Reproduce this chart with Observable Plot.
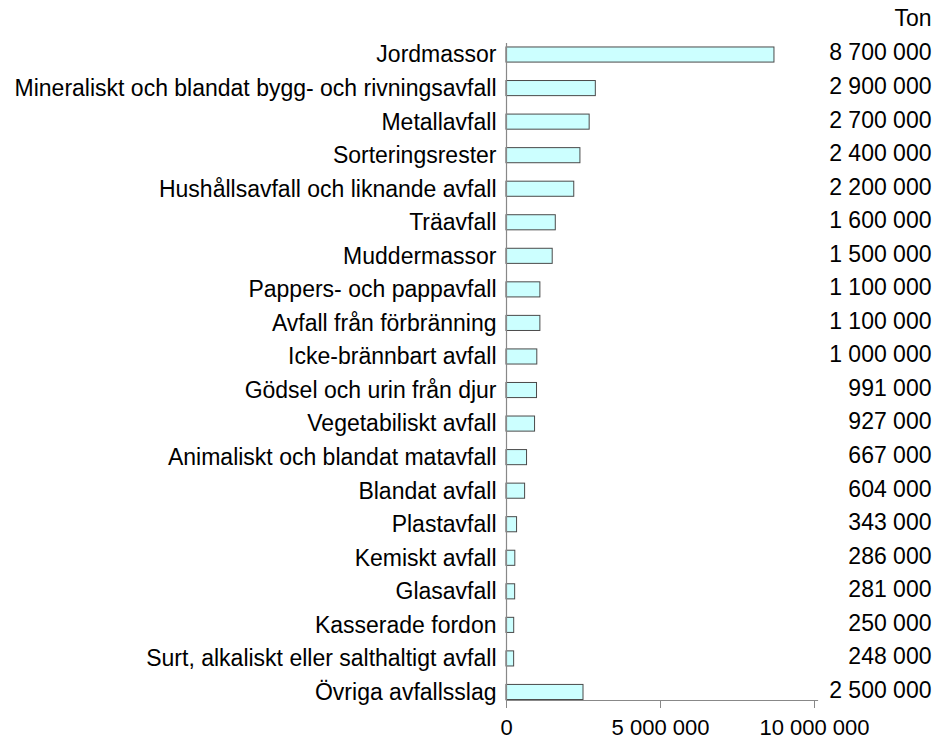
<!DOCTYPE html>
<html>
<head>
<meta charset="utf-8">
<script src="https://cdn.jsdelivr.net/npm/d3@7"></script>
<script src="https://cdn.jsdelivr.net/npm/@observablehq/plot@0.6"></script>
<style>
  body { margin: 0; background: #fff; }
  #chart svg { display: block; }
</style>
</head>
<body>
<div id="chart"></div>
<script>
const categories = [
  "Jordmassor",
  "Mineraliskt och blandat bygg- och rivningsavfall",
  "Metallavfall",
  "Sorteringsrester",
  "Hushållsavfall och liknande avfall",
  "Träavfall",
  "Muddermassor",
  "Pappers- och pappavfall",
  "Avfall från förbränning",
  "Icke-brännbart avfall",
  "Gödsel och urin från djur",
  "Vegetabiliskt avfall",
  "Animaliskt och blandat matavfall",
  "Blandat avfall",
  "Plastavfall",
  "Kemiskt avfall",
  "Glasavfall",
  "Kasserade fordon",
  "Surt, alkaliskt eller salthaltigt avfall",
  "Övriga avfallsslag"
];
const values = [
  8700000, 2900000, 2700000, 2400000, 2200000, 1600000, 1500000, 1100000, 1100000, 1000000,
  991000, 927000, 667000, 604000, 343000, 286000, 281000, 250000, 248000, 2500000
];
const xTicks = [0, 5000000, 10000000];
const unitLabel = "Ton";

const data = categories.map((c, i) => ({ category: c, value: values[i] }));
const fmt = d3.formatLocale({ decimal: ",", thousands: " ", grouping: [3], currency: ["", ""] }).format(",d");

const font = "'Liberation Sans', Arial, sans-serif";
const fs = 23;

const chart = Plot.plot({
  width: 937,
  height: 740,
  marginLeft: 506,
  marginRight: 120,
  marginTop: 43,
  marginBottom: 40,
  style: { fontFamily: font, fontSize: fs + "px", color: "#000", background: "#fff" },
  x: { domain: [0, 10000000], range: [506, 814] },
  y: { domain: categories, range: [37.75, 708.75], paddingInner: 0.55, paddingOuter: 0.275, round: false },
  marks: [
    Plot.barX(data, { x: "value", y: "category", fill: "#ccffff", stroke: "#4a4a4a", strokeWidth: 1 }),
    Plot.frame({ anchor: "left", stroke: "#888", strokeWidth: 1.2 }),
    Plot.frame({ anchor: "bottom", stroke: "#888", strokeWidth: 1.2 }),
    Plot.axisX({ ticks: xTicks, tickFormat: fmt, tickSize: 8, tickPadding: 11, label: null, stroke: "#888", fill: "#000", fontSize: 22 }),
    Plot.axisY({ tickSize: 0, tickPadding: 10, label: null, fill: "#000", fontSize: fs }),
    Plot.text(data, { y: "category", text: d => fmt(d.value), frameAnchor: "right", textAnchor: "end", lineAnchor: "middle", dx: 114, dy: -2, fill: "#000", fontSize: fs }),
    Plot.text([unitLabel], { frameAnchor: "top-right", textAnchor: "end", lineAnchor: "middle", dx: 114, dy: -24.5, fill: "#000", fontSize: fs })
  ]
});
document.getElementById("chart").appendChild(chart);
</script>
</body>
</html>
